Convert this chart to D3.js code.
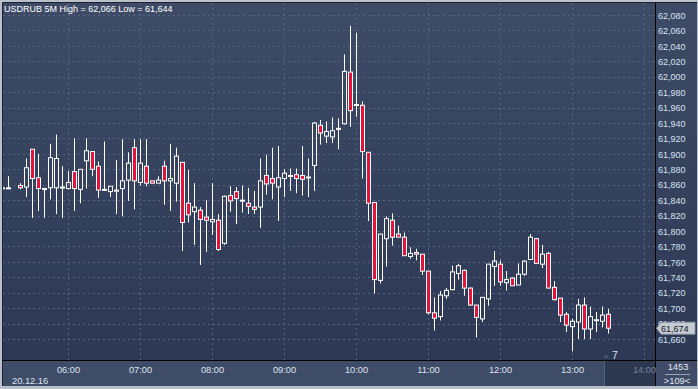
<!DOCTYPE html>
<html><head><meta charset="utf-8">
<script src="https://cdn.jsdelivr.net/npm/d3@7/dist/d3.min.js"></script>
<style>
html,body{margin:0;padding:0;background:#b9c0c9;}
svg{display:block;}
text{font-family:"Liberation Sans",Arial,sans-serif;}
</style></head><body>
<svg id="c" width="698" height="389"></svg>
<script>
const title = "USDRUB 5M High = 62,066 Low = 61,644";
const dateLabel = "20.12.16";
const xTicks = ["06:00","07:00","08:00","09:00","10:00","11:00","12:00","13:00","14:00"];
const yTicks = [61.66,61.68,61.70,61.72,61.74,61.76,61.78,61.80,61.82,61.84,61.86,61.88,61.90,61.92,61.94,61.96,61.98,62.00,62.02,62.04,62.06,62.08];
const lastPrice = 61.674;
const lastLabel = "61,674";
const countLabel = "7";
const cornerTop = "1453";
const cornerBottom = ">109<";

const times = [
 "05:05","05:10","05:20","05:25","05:30","05:35","05:40","05:45","05:50","05:55",
 "06:00","06:05","06:10","06:15","06:20","06:25","06:30","06:35","06:40","06:45","06:50","06:55",
 "07:00","07:05","07:10","07:15","07:20","07:25","07:30","07:35","07:40","07:45","07:50","07:55",
 "08:00","08:05","08:10","08:15","08:20","08:25","08:30","08:35","08:40","08:45","08:50","08:55",
 "09:00","09:05","09:10","09:15","09:20","09:25","09:30","09:35","09:40","09:45","09:50","09:55",
 "10:00","10:05","10:10","10:15","10:20","10:25","10:30","10:35","10:40","10:45","10:50","10:55",
 "11:00","11:05","11:10","11:15","11:20","11:25","11:30","11:35","11:40","11:45","11:50","11:55",
 "12:00","12:05","12:10","12:15","12:20","12:25","12:30","12:35","12:40","12:45","12:50","12:55",
 "13:00","13:05","13:10","13:15","13:20","13:25","13:30"];
const open = [
 61.856,61.856,61.859,61.857,61.906,61.869,61.855,61.856,61.856,61.857,
 61.855,61.877,61.854,61.891,61.903,61.884,61.854,61.851,61.853,61.855,61.866,61.908,
 61.863,61.884,61.865,61.862,61.884,61.865,61.862,61.889,61.836,61.825,61.827,61.818,
 61.812,61.814,61.784,61.846,61.851,61.840,61.836,61.831,61.831,61.872,61.868,61.857,
 61.868,61.872,61.873,61.872,61.870,61.885,61.937,61.923,61.922,61.933,61.939,62.006,
 61.963,61.963,61.902,61.837,61.736,61.790,61.814,61.796,61.792,61.767,61.772,61.770,
 61.748,61.694,61.689,61.716,61.724,61.745,61.749,61.726,61.704,61.686,61.712,61.754,
 61.757,61.733,61.739,61.730,61.744,61.763,61.790,61.757,61.771,61.727,61.713,61.692,
 61.676,61.682,61.704,61.673,61.685,61.683,61.692];
const high = [
 61.857,61.871,61.862,61.894,61.906,61.900,61.856,61.913,61.925,61.884,
 61.878,61.920,61.880,61.920,61.903,61.890,61.916,61.858,61.892,61.919,61.902,61.919,
 61.919,61.919,61.865,61.871,61.891,61.913,61.908,61.889,61.879,61.862,61.831,61.840,
 61.862,61.822,61.846,61.858,61.857,61.859,61.856,61.852,61.894,61.899,61.908,61.910,
 61.880,61.881,61.881,61.910,61.894,61.941,61.944,61.942,61.947,61.946,62.029,62.066,
 62.057,61.968,61.902,61.837,61.796,61.819,61.823,61.807,61.798,61.779,61.777,61.770,
 61.748,61.714,61.722,61.726,61.755,61.757,61.750,61.727,61.704,61.714,61.757,61.774,
 61.762,61.748,61.740,61.758,61.762,61.796,61.791,61.782,61.773,61.735,61.713,61.695,
 61.686,61.712,61.714,61.702,61.695,61.702,61.699];
const low = [
 61.855,61.855,61.854,61.844,61.817,61.826,61.817,61.841,61.822,61.817,
 61.854,61.826,61.836,61.855,61.871,61.843,61.852,61.844,61.822,61.819,61.839,61.828,
 61.859,61.858,61.862,61.862,61.834,61.826,61.838,61.774,61.811,61.782,61.756,61.773,
 61.795,61.774,61.782,61.825,61.809,61.824,61.822,61.822,61.804,61.847,61.841,61.813,
 61.844,61.852,61.849,61.846,61.844,61.852,61.912,61.914,61.914,61.906,61.938,61.935,
 61.948,61.868,61.813,61.719,61.732,61.754,61.781,61.792,61.768,61.764,61.762,61.743,
 61.692,61.671,61.684,61.712,61.723,61.737,61.716,61.703,61.662,61.682,61.703,61.729,
 61.729,61.723,61.729,61.730,61.742,61.763,61.758,61.752,61.726,61.710,61.682,61.669,
 61.644,61.660,61.660,61.660,61.669,61.675,61.667];
const close = [
 61.856,61.856,61.856,61.882,61.868,61.855,61.854,61.895,61.894,61.857,
 61.863,61.855,61.880,61.904,61.880,61.853,61.854,61.858,61.853,61.865,61.888,61.865,
 61.888,61.862,61.862,61.866,61.865,61.868,61.897,61.811,61.821,61.831,61.815,61.814,
 61.815,61.776,61.845,61.839,61.842,61.840,61.832,61.828,61.865,61.861,61.862,61.869,
 61.875,61.872,61.868,61.867,61.870,61.940,61.927,61.929,61.930,61.933,62.007,61.956,
 61.964,61.903,61.836,61.737,61.796,61.816,61.792,61.792,61.768,61.771,61.770,61.748,
 61.694,61.687,61.717,61.723,61.747,61.755,61.726,61.704,61.688,61.714,61.757,61.761,
 61.734,61.737,61.729,61.744,61.761,61.792,61.758,61.770,61.726,61.711,61.691,61.678,
 61.683,61.704,61.673,61.689,61.685,61.691,61.674];

const W = 698, H = 389;
const PL = 3, PT = 3, PR = 655, PB = 360, RB = 386;
const parse = d3.timeParse("%H:%M");
const x = d3.scaleTime().domain([parse("06:00"), parse("14:00")]).range([68, 644]);
const y = d3.scaleLinear().domain([61.66, 62.08]).range([339, 15]);
const fmt = v => d3.format(".3f")(v).replace(".", ",");

const data = times.map((t, i) => ({t: parse(t), o: open[i], h: high[i], l: low[i], c: close[i]}));

const svg = d3.select("#c");
const defs = svg.append("defs");
const g1 = defs.append("linearGradient").attr("id","bg").attr("x1",0).attr("y1",0).attr("x2",0).attr("y2",1);
g1.append("stop").attr("offset","0%").attr("stop-color","#3e4b67");
g1.append("stop").attr("offset","100%").attr("stop-color","#2c3854");
defs.append("clipPath").attr("id","clip").append("rect")
  .attr("x",PL).attr("y",PT).attr("width",PR-PL).attr("height",PB-PT);

// frame
svg.append("rect").attr("width",W).attr("height",H).attr("fill","#b9c0c9");
svg.append("rect").attr("x",2).attr("y",2).attr("width",W-3).attr("height",RB-2).attr("fill","#1c2230");
svg.append("rect").attr("x",PL).attr("y",PT).attr("width",PR-PL).attr("height",PB-PT).attr("fill","url(#bg)");
svg.append("rect").attr("x",PR+1).attr("y",PT).attr("width",W-1-PR-1).attr("height",PB-PT).attr("fill","url(#bg)");
svg.append("rect").attr("x",PL).attr("y",PB+1).attr("width",PR-PL).attr("height",RB-PB-1).attr("fill","#3f4c68");
svg.append("rect").attr("x",PR+1).attr("y",PB+1).attr("width",W-1-PR-1).attr("height",RB-PB-1).attr("fill","#3f4c68");
// future zone on time axis
svg.append("rect").attr("x",604).attr("y",PB+1).attr("width",PR-604).attr("height",RB-PB-1).attr("fill","#2c3750");
svg.append("line").attr("x1",604.5).attr("x2",604.5).attr("y1",PB+1).attr("y2",RB).attr("stroke","#55607a");

// grid
const grid = svg.append("g").attr("stroke","#56647f").attr("stroke-dasharray","2,3").attr("stroke-width",1);
yTicks.forEach(v => {
  const yy = Math.round(y(v)) + 0.5;
  grid.append("line").attr("x1",PL).attr("x2",PR).attr("y1",yy).attr("y2",yy);
});
xTicks.forEach(s => {
  const xx = Math.round(x(parse(s))) + 0.5;
  grid.append("line").attr("x1",xx).attr("x2",xx).attr("y1",PT).attr("y2",PB);
});

// candles
const cg = svg.append("g").attr("clip-path","url(#clip)");
data.forEach(d => {
  const cx = Math.round(x(d.t));
  const top = Math.min(y(d.o), y(d.c)), bot = Math.max(y(d.o), y(d.c));
  const down = d.c < d.o;
  const wx = cx + 0.5;
  if (y(d.h) < top) cg.append("line").attr("x1",wx).attr("x2",wx).attr("y1",y(d.h)).attr("y2",top).attr("stroke","#fff");
  if (y(d.l) > bot) cg.append("line").attr("x1",wx).attr("x2",wx).attr("y1",bot).attr("y2",y(d.l)).attr("stroke","#fff");
  cg.append("rect").attr("x",cx-1.5).attr("y",top).attr("width",4).attr("height",Math.max(1,bot-top))
    .attr("fill", down ? "#e3143c" : "none").attr("stroke","#fff").attr("stroke-width",1);
});

// axis lines
svg.append("line").attr("x1",PL).attr("x2",W-1).attr("y1",PB+0.5).attr("y2",PB+0.5).attr("stroke","#000");
svg.append("line").attr("x1",PR+0.5).attr("x2",PR+0.5).attr("y1",PT).attr("y2",RB).attr("stroke","#000");

// y axis
const ya = svg.append("g").attr("transform",`translate(658,0)`)
  .call(d3.axisRight(y).tickValues(yTicks).tickSize(0).tickPadding(0).tickFormat(fmt));
ya.select(".domain").remove();
ya.selectAll("text").attr("x",0).attr("dy",null).attr("y",3.2).attr("fill","#d6e2f0")
  .attr("text-anchor","start").style("font-size","9px").style("font-family",'"Liberation Sans",Arial,sans-serif');

// x axis
const xa = svg.append("g").attr("transform",`translate(0,${PB})`)
  .call(d3.axisBottom(x).tickValues(xTicks.map(parse)).tickSize(0).tickFormat(d3.timeFormat("%H:%M")));
xa.select(".domain").remove();
xa.selectAll("text").attr("dy",null).attr("y",12.5)
  .attr("fill", d => d3.timeFormat("%H:%M")(d) === "14:00" ? "#76829a" : "#dbe3ee")
  .style("font-size","9.3px").style("font-family",'"Liberation Sans",Arial,sans-serif');

svg.append("text").attr("x",12).attr("y",383.5).attr("fill","#dbe3ee").style("font-size","9.3px").text(dateLabel);

// title
svg.append("text").attr("x",4).attr("y",11.5).attr("fill","#ffffff").style("font-size","9px").text(title);

// last price marker
const ly = y(lastPrice);
svg.append("path")
  .attr("d",`M656.5,${ly} L661,${ly-6} L695,${ly-6} L695,${ly+6} L661,${ly+6} Z`)
  .attr("fill","#c6cbd3").attr("stroke","#8c939e");
svg.append("text").attr("x",661).attr("y",ly+3.3).attr("fill","#101826").style("font-size","9px").text(lastLabel);

// count marker
svg.append("path").attr("d","M603,358 L609,358 L606,354.5 Z").attr("fill","#4c566b");
svg.append("text").attr("x",612).attr("y",359).attr("fill","#d4e4f4").style("font-size","10.5px").text(countLabel);

// corner
svg.append("text").attr("x",678).attr("y",370).attr("text-anchor","middle").attr("fill","#e2e8f0").style("font-size","9.3px").text(cornerTop);
svg.append("line").attr("x1",665).attr("x2",690).attr("y1",374.5).attr("y2",374.5).attr("stroke","#9aa3b2");
svg.append("text").attr("x",677).attr("y",384).attr("text-anchor","middle").attr("fill","#e2e8f0").style("font-size","9.3px").text(cornerBottom);
</script>
</body></html>
